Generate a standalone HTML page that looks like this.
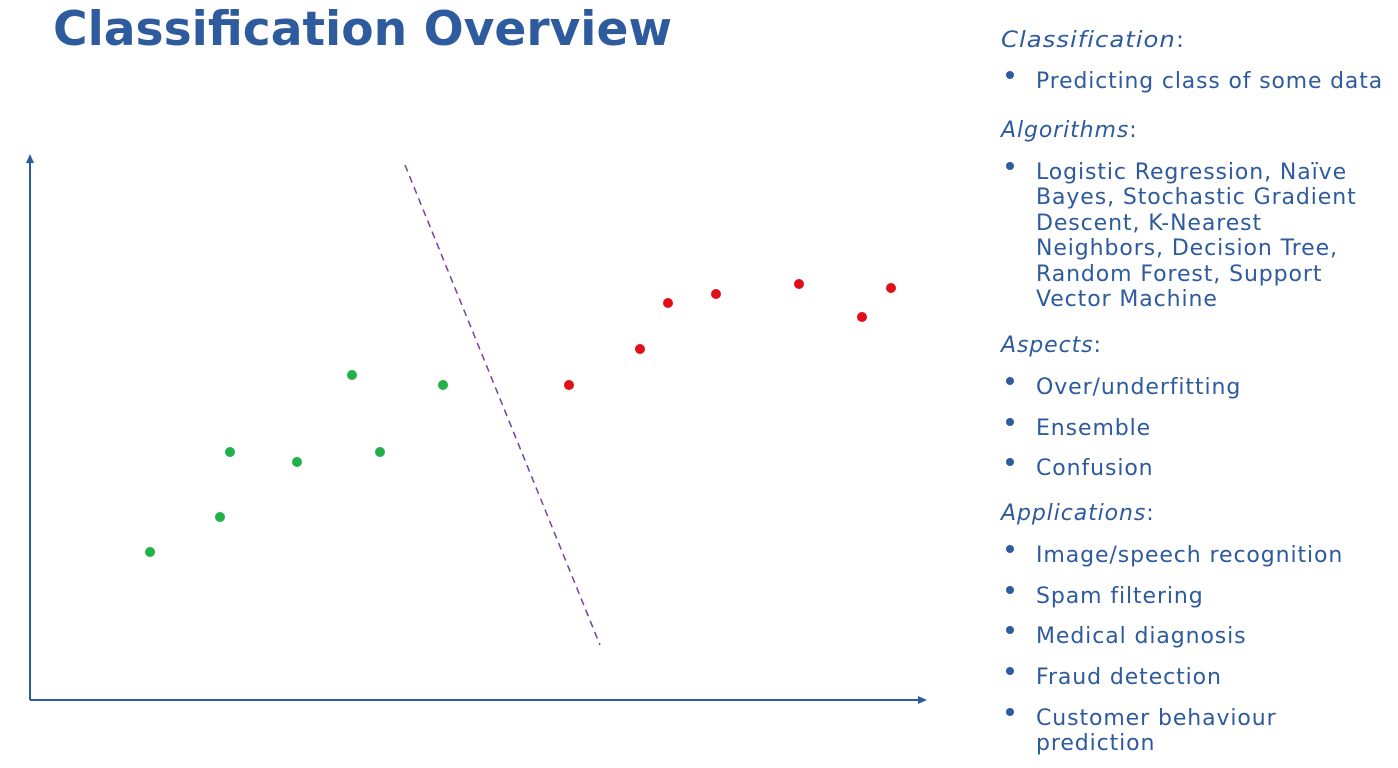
<!DOCTYPE html>
<html><head><meta charset="utf-8"><style>
html,body{margin:0;padding:0;background:#fff;}
svg{display:block;}
text{font-family:"DejaVu Sans","Liberation Sans",sans-serif;fill:#2e5a9e;}
.r text{letter-spacing:0.9px;}
</style></head><body>
<svg width="1398" height="768" viewBox="0 0 1398 768" xmlns="http://www.w3.org/2000/svg">
<text x="53" y="45" font-size="47" font-weight="bold" textLength="619" lengthAdjust="spacingAndGlyphs">Classification Overview</text>
<g stroke="#2e5a9e" stroke-width="2" fill="#2e5a9e">
<line x1="30" y1="700" x2="30" y2="162"/>
<polygon points="30,154 26,163 34,163" stroke="none"/>
<line x1="30" y1="700" x2="918" y2="700"/>
<polygon points="927,700 918,696 918,704" stroke="none"/>
</g>
<line x1="405" y1="165" x2="600" y2="645" stroke="#7a3fa0" stroke-width="1.5" stroke-dasharray="7,5"/>
<g fill="#22b04a">
<circle cx="150" cy="552" r="5"/><circle cx="220" cy="517" r="5"/><circle cx="230" cy="452" r="5"/>
<circle cx="297" cy="462" r="5"/><circle cx="352" cy="375" r="5"/><circle cx="380" cy="452" r="5"/><circle cx="443" cy="385" r="5"/>
</g>
<g fill="#e0101a">
<circle cx="569" cy="385" r="5"/><circle cx="640" cy="349" r="5"/><circle cx="668" cy="303" r="5"/>
<circle cx="716" cy="294" r="5"/><circle cx="799" cy="284" r="5"/><circle cx="862" cy="317" r="5"/><circle cx="891" cy="288" r="5"/>
</g>
<g font-size="22" class="r">
<text x="1001" y="47" textLength="184" lengthAdjust="spacingAndGlyphs"><tspan font-style="italic">Classification</tspan>:</text>
<text x="1036" y="88" textLength="347" lengthAdjust="spacingAndGlyphs">Predicting class of some data</text>
<text x="1001" y="137"><tspan font-style="italic">Algorithms</tspan>:</text>
<text x="1036" y="179">Logistic Regression, Naïve</text>
<text x="1036" y="204">Bayes, Stochastic Gradient</text>
<text x="1036" y="230">Descent, K-Nearest</text>
<text x="1036" y="255">Neighbors, Decision Tree,</text>
<text x="1036" y="281">Random Forest, Support</text>
<text x="1036" y="306">Vector Machine</text>
<text x="1001" y="352"><tspan font-style="italic">Aspects</tspan>:</text>
<text x="1036" y="394">Over/underfitting</text>
<text x="1036" y="435">Ensemble</text>
<text x="1036" y="475">Confusion</text>
<text x="1001" y="520"><tspan font-style="italic">Applications</tspan>:</text>
<text x="1036" y="562">Image/speech recognition</text>
<text x="1036" y="603">Spam filtering</text>
<text x="1036" y="643">Medical diagnosis</text>
<text x="1036" y="684">Fraud detection</text>
<text x="1036" y="725">Customer behaviour</text>
<text x="1036" y="750">prediction</text>
</g>
<g fill="#2e5a9e">
<circle cx="1010" cy="75" r="4"/><circle cx="1010" cy="166" r="4"/><circle cx="1010" cy="381" r="4"/>
<circle cx="1010" cy="422" r="4"/><circle cx="1010" cy="462" r="4"/><circle cx="1010" cy="549" r="4"/>
<circle cx="1010" cy="590" r="4"/><circle cx="1010" cy="630" r="4"/><circle cx="1010" cy="671" r="4"/><circle cx="1010" cy="712" r="4"/>
</g>
</svg>
</body></html>
